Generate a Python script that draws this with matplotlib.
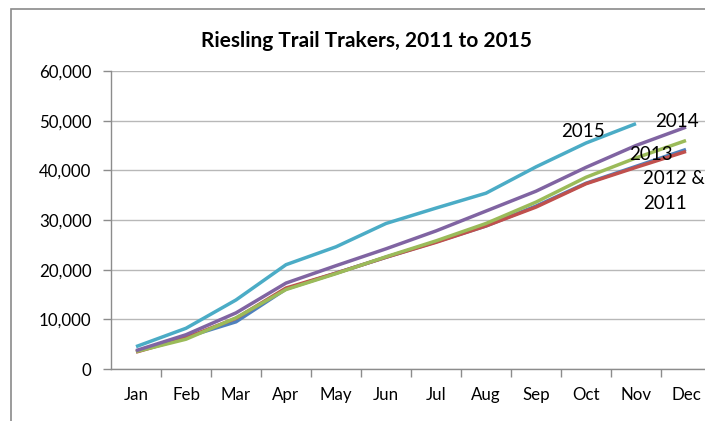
import matplotlib
matplotlib.use("Agg")
import matplotlib.pyplot as plt
from matplotlib.patches import Rectangle

months = ["Jan", "Feb", "Mar", "Apr", "May", "Jun", "Jul", "Aug", "Sep", "Oct", "Nov", "Dec"]
y2011 = [3500, 6400, 9500, 16100, 19300, 22500, 25600, 28800, 32800, 37400, 40800, 44200]
y2012 = [3400, 6300, 10200, 16300, 19300, 22500, 25500, 28800, 32600, 37300, 40600, 43800]
y2013 = [3500, 6000, 10300, 16000, 19200, 22600, 25800, 29300, 33600, 38600, 42500, 46000]
y2014 = [3700, 6900, 11300, 17300, 20800, 24200, 27800, 31800, 35800, 40600, 45000, 48700]
y2015 = [4500, 8200, 13900, 21000, 24600, 29300, 32400, 35400, 40700, 45500, 49400]

plt.rcParams["font.family"] = ["Lato", "DejaVu Sans"]

fig = plt.figure(figsize=(7.05, 4.21), dpi=100)
fig.patch.set_facecolor("white")

# open frame of the chart area (left and top edges only visible)
fig.patches.append(Rectangle((11 / 705, -0.1), 1.2, 1 - 9 / 421 + 0.1,
                             transform=fig.transFigure, fill=False,
                             edgecolor="#8a8a8a", linewidth=1.2))

ax = fig.add_axes([111 / 705, 1 - 369 / 421, 600 / 705, 298 / 421])

x = list(range(len(months)))
ax.plot(x, y2011, color="#4F81BD", lw=2.5, solid_capstyle="butt")
ax.plot(x, y2012, color="#C0504D", lw=2.5, solid_capstyle="butt")
ax.plot(x, y2013, color="#9BBB59", lw=2.5, solid_capstyle="butt")
ax.plot(x, y2014, color="#8064A2", lw=2.5, solid_capstyle="butt")
ax.plot(x[:len(y2015)], y2015, color="#4BACC6", lw=2.5, solid_capstyle="butt")

ax.set_xlim(-0.5, 11.5)
ax.set_ylim(0, 60000)
ax.set_yticks(range(0, 60001, 10000))
ax.set_yticklabels([f"{v:,}" for v in range(0, 60001, 10000)])
ax.set_xticks([i + 0.5 for i in x[:-1]], minor=False)
ax.set_xticklabels([])
ax.set_xticks(x, minor=True)
ax.set_xticklabels(months, minor=True)
ax.tick_params(axis="x", which="minor", length=0, pad=13, labelsize=12.2)
ax.tick_params(axis="x", which="major", length=6, width=1, color="#8c8c8c")
ax.tick_params(axis="y", length=6, width=1, color="#8c8c8c", pad=8, labelsize=12.2)

ax.grid(axis="y", color="#b8b8b8", lw=1)
ax.set_axisbelow(True)
for side in ["top", "right"]:
    ax.spines[side].set_visible(False)
for side in ["left", "bottom"]:
    ax.spines[side].set_color("#8c8c8c")
    ax.spines[side].set_linewidth(1)

lab = dict(fontsize=13.5, color="black", va="baseline", clip_on=False)
ax.text(8.94, 46770, "2015", ha="center", **lab)
ax.text(10.82, 48780, "2014", ha="center", **lab)
ax.text(10.30, 42080, "2013", ha="center", **lab)
ax.text(10.14, 37250, "2012 &", ha="left", **lab)
ax.text(10.14, 32150, "2011", ha="left", **lab)

fig.text(366 / 705, 1 - 47.3 / 421, "Riesling Trail Trakers, 2011 to 2015",
         ha="center", va="baseline", fontsize=15, fontweight="bold")

fig.savefig("out.png", dpi=100)
